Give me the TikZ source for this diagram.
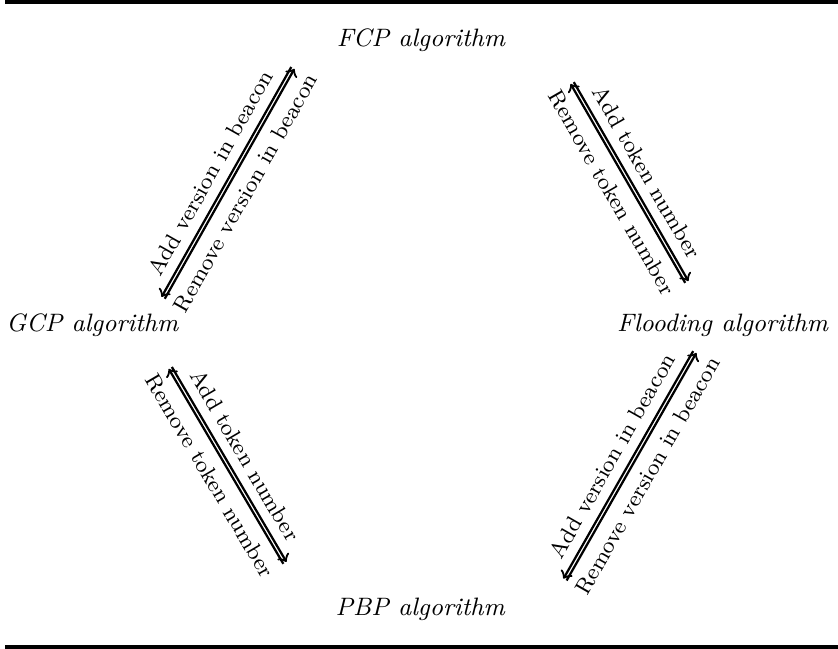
\documentclass[tikz,border=0pt]{standalone}
\usepackage{tikz}
\usetikzlibrary{calc}
\def\gap{0.65pt}
\tikzset{
	algo/.style={font=\small\itshape},
	flow/.style={->,thick},
	lbl/.style={midway,sloped,font=\footnotesize}
}

\begin{document}
\begin{tikzpicture}
		%%%%% START %%%%%
		\useasboundingbox (0,0) rectangle (10.53,8.153);
		
		\fill[black] (0.06,8.10) rectangle (10.53,8.153);
		\fill[black] (0.06,0) rectangle (10.53,0.05);
		
		\node[algo] (fcp) at (5.29,7.65) {FCP algorithm};
		\node[algo] (gcp) at (1.16,4.07) {GCP algorithm};
		\node[algo] (flood) at (9.08,4.07) {Flooding algorithm};
		\node[algo] (pbp) at (5.28,0.50) {PBP algorithm};
		
		\coordinate (tlT) at (3.68,7.30);
		\coordinate (tlB) at (2.05,4.41);
		\coordinate (trT) at (7.19,7.11);
		\coordinate (trB) at (8.63,4.61);
		\coordinate (blT) at (2.14,3.53);
		\coordinate (blB) at (3.58,1.08);
		\coordinate (brT) at (8.73,3.73);
		\coordinate (brB) at (7.10,0.87);
		
		% FCP -- GCP
		\draw[flow] ($(tlT)!\gap!-90:(tlB)$) -- node[lbl,above] {Add version in beacon} ($(tlB)!\gap!90:(tlT)$);
		\draw[flow] ($(tlB)!\gap!-90:(tlT)$) -- node[lbl,below] {Remove version in beacon} ($(tlT)!\gap!90:(tlB)$);
		
		% FCP -- Flooding
		\draw[flow] ($(trT)!\gap!90:(trB)$) -- node[lbl,above] {Add token number} ($(trB)!\gap!-90:(trT)$);
		\draw[flow] ($(trB)!\gap!90:(trT)$) -- node[lbl,below] {Remove token number} ($(trT)!\gap!-90:(trB)$);
		
		% GCP -- PBP
		\draw[flow] ($(blT)!\gap!90:(blB)$) -- node[lbl,above] {Add token number} ($(blB)!\gap!-90:(blT)$);
		\draw[flow] ($(blB)!\gap!90:(blT)$) -- node[lbl,below] {Remove token number} ($(blT)!\gap!-90:(blB)$);
		
		% Flooding -- PBP
		\draw[flow] ($(brT)!\gap!-90:(brB)$) -- node[lbl,above] {Add version in beacon} ($(brB)!\gap!90:(brT)$);
		\draw[flow] ($(brB)!\gap!-90:(brT)$) -- node[lbl,below] {Remove version in beacon} ($(brT)!\gap!90:(brB)$);
		
		%%%%% END %%%%%
	\end{tikzpicture}
\end{document}
